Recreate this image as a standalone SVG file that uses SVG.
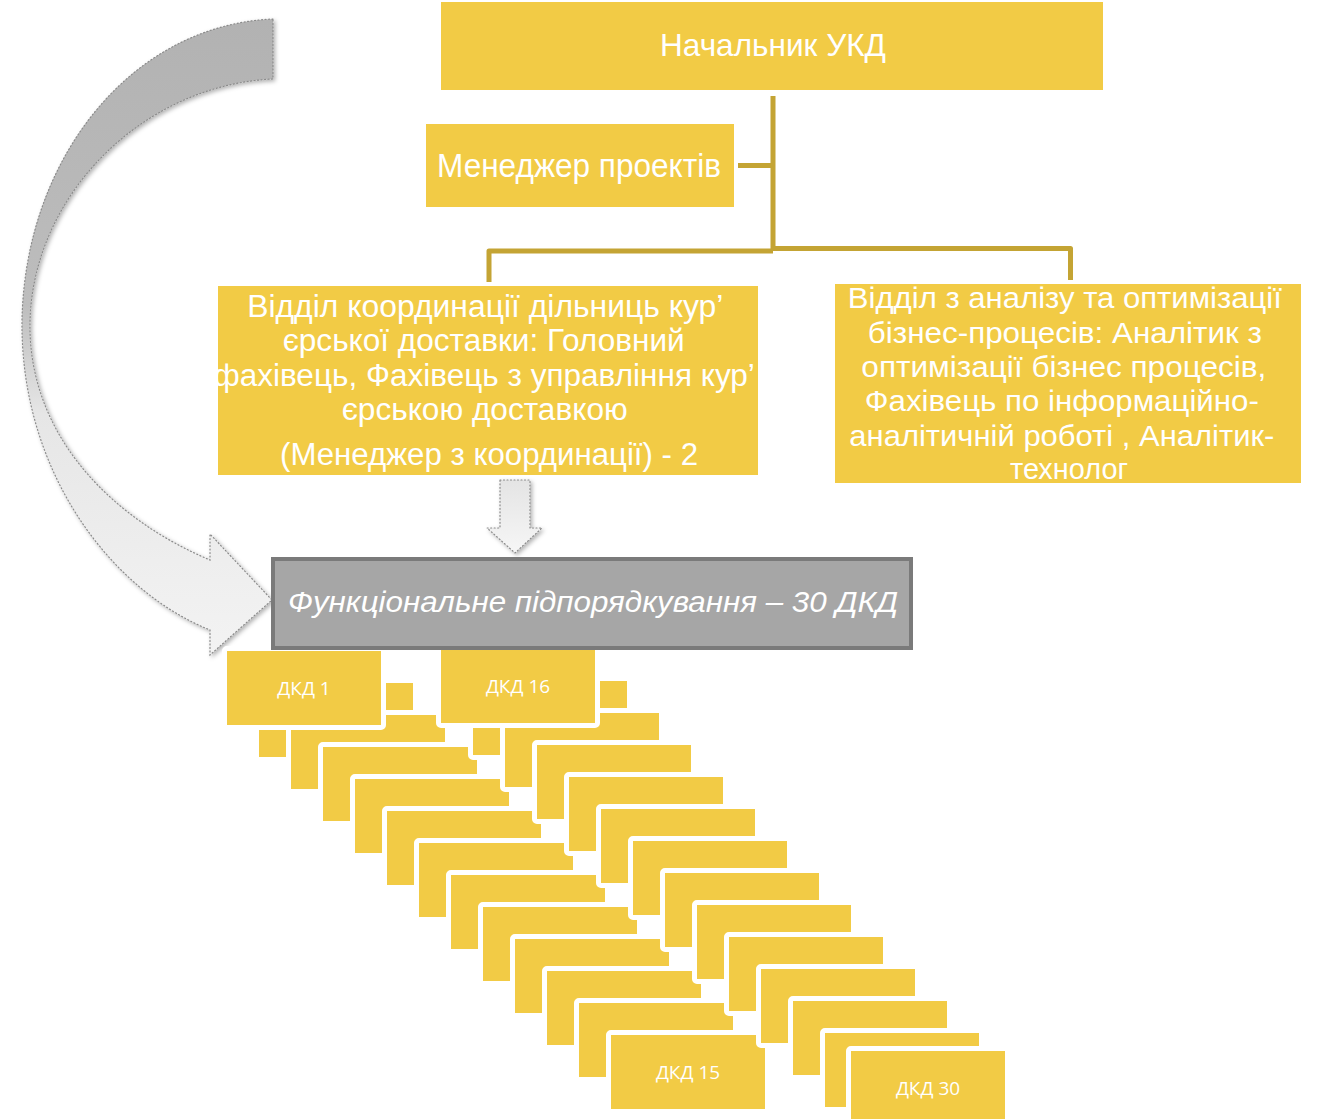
<svg xmlns="http://www.w3.org/2000/svg" width="1319" height="1119" viewBox="0 0 1319 1119">
<defs>
<linearGradient id="arrowGrad" x1="0" y1="0" x2="0" y2="1">
<stop offset="0" stop-color="#b2b2b2"/>
<stop offset="0.45" stop-color="#bdbdbd"/>
<stop offset="0.62" stop-color="#e6e6e6"/>
<stop offset="1" stop-color="#f3f3f3"/>
</linearGradient>
<linearGradient id="smallGrad" x1="0" y1="0" x2="0" y2="1">
<stop offset="0" stop-color="#e4e4e4"/>
<stop offset="1" stop-color="#f6f6f6"/>
</linearGradient>
<filter id="shadow" x="-20%" y="-20%" width="140%" height="140%">
<feDropShadow dx="2" dy="2" stdDeviation="2" flood-color="#000" flood-opacity="0.3"/>
</filter>
</defs>
<style>
.box{fill:#F2CB45}
.dk{fill:#F2CB45;stroke:#ffffff;stroke-width:10;stroke-linejoin:round;paint-order:stroke}
.t{fill:#ffffff;font-family:"Liberation Sans",Arial,sans-serif;text-anchor:middle}
.dt{fill:#ffffff;font-family:"Open Sans","Noto Sans",sans-serif;font-size:19px;text-anchor:middle}
.conn{fill:none;stroke:#C4A434;stroke-width:5;stroke-linejoin:round;stroke-linecap:butt}
.dotted{stroke:#8a8a8a;stroke-width:1.2;stroke-dasharray:1 2.5;stroke-linecap:round}
</style>
<rect width="1319" height="1119" fill="#ffffff"/>

<!-- big curved arrow -->
<g id="curved-arrow" filter="url(#shadow)">
<path d="M273,19 C130,25 25,160 22,320 C20,470 110,590 210,630 L210,655 L272,600 L210,534 L210,560 C115,520 32,440 30,330 C28,200 140,85 273,79 Z" fill="url(#arrowGrad)" class="dotted"/>
</g>

<!-- connectors -->
<g id="connectors">
<path class="conn" d="M773,96 V251"/>
<path class="conn" d="M738,165.5 H773"/>
<path class="conn" d="M489,282 V251 H773"/>
<path class="conn" d="M773,248.5 H1070.5 V280"/>
</g>

<g id="node-head">
<rect class="box" x="441" y="2" width="662" height="88"/>
<text class="t" x="773" y="56" font-size="32" textLength="226" lengthAdjust="spacingAndGlyphs">Начальник УКД</text>
</g>

<g id="node-pm">
<rect class="box" x="426" y="124" width="308" height="83"/>
<text class="t" x="579" y="177" font-size="33" textLength="284" lengthAdjust="spacingAndGlyphs">Менеджер проектів</text>
</g>

<g id="node-coord">
<rect class="box" x="218" y="286" width="540" height="189"/>
<text class="t" font-size="31">
<tspan x="489" y="317" textLength="475" lengthAdjust="spacingAndGlyphs">Відділ координації дільниць кур’</tspan>
<tspan x="488" y="351" textLength="402" lengthAdjust="spacingAndGlyphs">єрської доставки: Головний</tspan>
<tspan x="488" y="386" textLength="540" lengthAdjust="spacingAndGlyphs">фахівець, Фахівець з управління кур’</tspan>
<tspan x="489" y="420" textLength="286" lengthAdjust="spacingAndGlyphs">єрською доставкою</tspan>
<tspan x="489" y="465" textLength="418" lengthAdjust="spacingAndGlyphs">(Менеджер з координації) - 2</tspan>
</text>
</g>

<g id="node-analysis">
<rect class="box" x="835" y="284" width="466" height="199"/>
<text class="t" font-size="30">
<tspan x="1069" y="308" textLength="434" lengthAdjust="spacingAndGlyphs">Відділ з аналізу та оптимізації</tspan>
<tspan x="1069" y="343" textLength="394" lengthAdjust="spacingAndGlyphs">бізнес-процесів: Аналітик з</tspan>
<tspan x="1068" y="377" textLength="405" lengthAdjust="spacingAndGlyphs">оптимізації бізнес процесів,</tspan>
<tspan x="1066" y="411" textLength="394" lengthAdjust="spacingAndGlyphs">Фахівець по інформаційно-</tspan>
<tspan x="1066" y="446" textLength="425" lengthAdjust="spacingAndGlyphs">аналітичній роботі , Аналітик-</tspan>
<tspan x="1069" y="479" textLength="118" lengthAdjust="spacingAndGlyphs">технолог</tspan>
</text>
</g>

<!-- small down arrow -->
<g id="down-arrow" filter="url(#shadow)">
<path d="M500,480 H530 V528 H542 L515,553 L487,528 H500 Z" fill="url(#smallGrad)" class="dotted"/>
</g>

<!-- staircase of DKD boxes: left column -->
<g id="dkd-left">
<rect class="dk" x="259" y="683" width="154" height="74"/>
<rect class="dk" x="291" y="715" width="154" height="74"/>
<rect class="dk" x="323" y="747" width="154" height="74"/>
<rect class="dk" x="355" y="779" width="154" height="74"/>
<rect class="dk" x="387" y="811" width="154" height="74"/>
<rect class="dk" x="419" y="843" width="154" height="74"/>
<rect class="dk" x="451" y="875" width="154" height="74"/>
<rect class="dk" x="483" y="907" width="154" height="74"/>
<rect class="dk" x="515" y="939" width="154" height="74"/>
<rect class="dk" x="547" y="971" width="154" height="74"/>
<rect class="dk" x="579" y="1003" width="154" height="74"/>
<g id="node-dkd15">
<rect class="dk" x="611" y="1035" width="154" height="74"/>
<text class="dt" x="688" y="1079">ДКД 15</text>
</g>
<g id="node-dkd1">
<rect class="dk" x="227" y="651" width="154" height="74"/>
<text class="dt" x="304" y="695">ДКД 1</text>
</g>
</g>

<!-- right column -->
<g id="dkd-right">
<rect class="dk" x="473" y="681" width="154" height="74"/>
<rect class="dk" x="505" y="713" width="154" height="74"/>
<rect class="dk" x="537" y="745" width="154" height="74"/>
<rect class="dk" x="569" y="777" width="154" height="74"/>
<rect class="dk" x="601" y="809" width="154" height="74"/>
<rect class="dk" x="633" y="841" width="154" height="74"/>
<rect class="dk" x="665" y="873" width="154" height="74"/>
<rect class="dk" x="697" y="905" width="154" height="74"/>
<rect class="dk" x="729" y="937" width="154" height="74"/>
<rect class="dk" x="761" y="969" width="154" height="74"/>
<rect class="dk" x="793" y="1001" width="154" height="74"/>
<rect class="dk" x="825" y="1033" width="154" height="74"/>
<g id="node-dkd16">
<rect class="dk" x="441" y="649" width="154" height="74"/>
<text class="dt" x="518" y="693">ДКД 16</text>
</g>
<g id="node-dkd30">
<rect class="dk" x="851" y="1051" width="154" height="74"/>
<text class="dt" x="928" y="1095">ДКД 30</text>
</g>
</g>

<g id="node-functional">
<rect x="273" y="559" width="638" height="89" fill="#A6A6A6" stroke="#7A7A7A" stroke-width="4"/>
<text class="t" x="593" y="612" font-size="30" font-style="italic" textLength="610" lengthAdjust="spacingAndGlyphs">Функціональне підпорядкування – 30 ДКД</text>
</g>
</svg>
